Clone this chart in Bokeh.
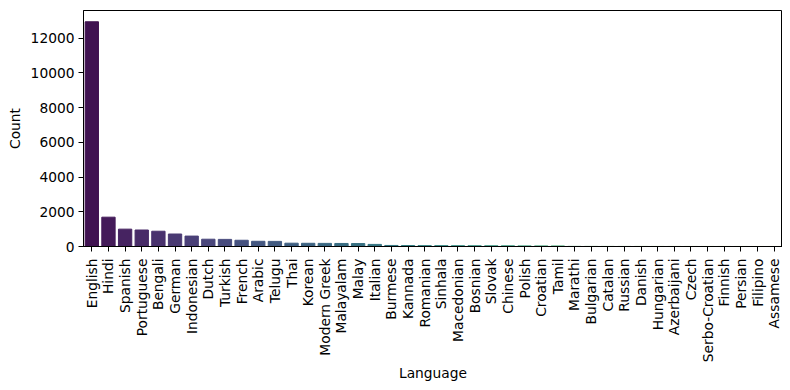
import colorsys
from bokeh.plotting import figure
from bokeh.models import ColumnDataSource, FactorRange, Range1d, FixedTicker
from bokeh.palettes import Viridis256
from bokeh.embed import file_html
from bokeh.resources import INLINE

languages = ["English", "Hindi", "Spanish", "Portuguese", "Bengali", "German", "Indonesian",
             "Dutch", "Turkish", "French", "Arabic", "Telugu", "Thai", "Korean", "Modern Greek",
             "Malayalam", "Malay", "Italian", "Burmese", "Kannada", "Romanian", "Sinhala",
             "Macedonian", "Bosnian", "Slovak", "Chinese", "Polish", "Croatian", "Tamil",
             "Marathi", "Bulgarian", "Catalan", "Russian", "Danish", "Hungarian", "Azerbaijani",
             "Czech", "Serbo-Croatian", "Finnish", "Persian", "Filipino", "Assamese"]
counts = [12950, 1690, 1000, 950, 880, 720, 600,
          420, 410, 360, 300, 295, 190, 185, 180,
          175, 170, 120, 60, 55, 50, 48,
          45, 42, 40, 38, 36, 35, 33,
          8, 6, 5, 4, 4, 3, 3,
          2, 2, 2, 1, 1, 1]
y_ticks = [0, 2000, 4000, 6000, 8000, 10000, 12000]


def desat(hexcol, prop=0.75):
    r, g, b = (int(hexcol[i:i + 2], 16) / 255 for i in (1, 3, 5))
    h, l, s = colorsys.rgb_to_hls(r, g, b)
    r, g, b = colorsys.hls_to_rgb(h, l, s * prop)
    return "#%02x%02x%02x" % (round(r * 255), round(g * 255), round(b * 255))


n = len(languages)
colors = []
for i in range(n):
    b = (i + 1) / (n + 1)
    colors.append(desat(Viridis256[min(int(b * 256), 255)]))

src = ColumnDataSource(dict(lang=languages, count=counts, color=colors))

FONT = "DejaVu Sans"
p = figure(x_range=FactorRange(*languages), y_range=Range1d(0, 13600),
           width=782, height=382, frame_width=699, frame_height=236,
           min_border_left=83, min_border_top=10, min_border_right=0,
           output_backend="svg", toolbar_location=None)
p.vbar(x="lang", top="count", width=0.8, color="color", source=src)

p.xgrid.visible = False
p.ygrid.visible = False
p.outline_line_color = "black"
p.outline_line_alpha = 1
p.outline_line_width = 1

p.yaxis.ticker = FixedTicker(ticks=y_ticks)
p.xaxis.major_label_orientation = 3.14159265 / 2
for ax in (p.xaxis, p.yaxis):
    ax.axis_line_color = "black"
    ax.major_tick_line_color = "black"
    ax.major_tick_out = 5
    ax.major_tick_in = 0
    ax.minor_tick_line_color = None
    ax.major_label_text_font = FONT
    ax.major_label_text_font_size = "13.8px"
    ax.major_label_text_color = "black"
    ax.axis_label_text_font = FONT
    ax.axis_label_text_font_size = "13.8px"
    ax.axis_label_text_font_style = "normal"
    ax.axis_label_text_color = "black"
p.xaxis.axis_label = "Language"
p.yaxis.axis_label = "Count"
p.xaxis.major_label_standoff = 7
p.yaxis.major_label_standoff = 4
p.xaxis.axis_label_standoff = 0
p.yaxis.axis_label_standoff = 5

open("out.html", "w").write(file_html(p, INLINE))
